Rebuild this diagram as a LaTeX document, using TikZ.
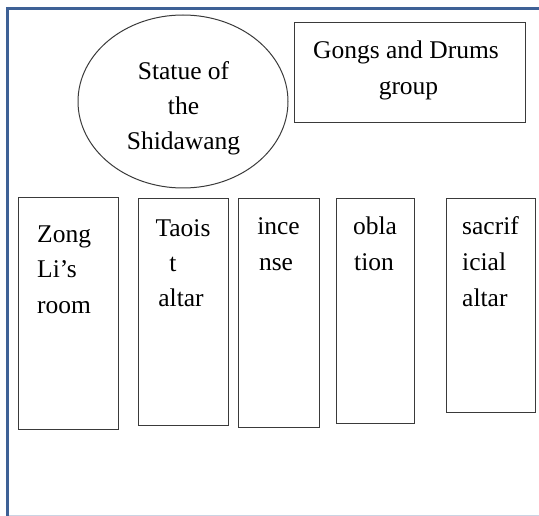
\documentclass[tikz,border=0pt]{standalone}
\usepackage{fontspec}
\setmainfont{Liberation Serif}
\usetikzlibrary{shapes.geometric}
\definecolor{frameblue}{HTML}{3E6196}
\definecolor{framelight}{HTML}{CBD3E3}
\definecolor{boxgray}{HTML}{3A3A3A}
\tikzset{
  roombox/.style={draw=boxgray, line width=0.9pt, rectangle, inner sep=0pt},
  lbl/.style={inner sep=0pt, font=\fontsize{25.5}{35.5}\selectfont, text=black},
}
\begin{document}
\begin{tikzpicture}[x=1pt,y=-1pt]
\useasboundingbox (0,0) rectangle (539,516);
% frame
\draw[framelight, line width=1pt] (8,515) -- (539,515);
\draw[frameblue, line width=3pt] (6,8.5) -- (539,8.5);
\draw[frameblue, line width=3pt] (7.5,7) -- (7.5,516);
% ellipse
\node[draw=boxgray, line width=1pt, ellipse, minimum width=210pt, minimum height=173pt, inner sep=0pt] (statue) at (183,101.5) {};
\node[lbl, anchor=base] (st1) at (183.5,80) {Statue of};
\node[lbl, anchor=base] (st2) at (183.5,115) {the};
\node[lbl, anchor=base] (st3) at (183.5,150) {Shidawang};
% gongs
\node[roombox, minimum width=231pt, minimum height=100pt] (gongs) at (409.5,72) {};
\node[lbl, anchor=base] (g1) at (406,59) {Gongs and Drums};
\node[lbl, anchor=base] (g2) at (408.5,95) {group};
% Zong Li's room
\node[roombox, minimum width=100pt, minimum height=232pt] (zong) at (68,313) {};
\node[lbl, anchor=base west] (z1) at (37,243) {Zong};
\node[lbl, anchor=base west] (z2) at (37,278) {Li’s};
\node[lbl, anchor=base west] (z3) at (37,314) {room};
% Taoist altar
\node[roombox, minimum width=90pt, minimum height=227pt] (taoist) at (183,311.5) {};
\node[lbl, anchor=base] (t1) at (183,237) {Taois};
\node[lbl, anchor=base] (t2) at (173,272) {t};
\node[lbl, anchor=base] (t3) at (181,307) {altar};
% incense
\node[roombox, minimum width=81pt, minimum height=229pt] (incense) at (278.5,312.5) {};
\node[lbl, anchor=base] (i1) at (278.5,235) {ince};
\node[lbl, anchor=base] (i2) at (276,271) {nse};
% oblation
\node[roombox, minimum width=78pt, minimum height=225pt] (oblation) at (375,310.5) {};
\node[lbl, anchor=base] (o1) at (375,235) {obla};
\node[lbl, anchor=base] (o2) at (374,271) {tion};
% sacrificial altar
\node[roombox, minimum width=89pt, minimum height=214pt] (sacrif) at (490.5,305) {};
\node[lbl, anchor=base west] (s1) at (462,235) {sacrif};
\node[lbl, anchor=base west] (s2) at (462,271) {icial};
\node[lbl, anchor=base west] (s3) at (462,307) {altar};
\end{tikzpicture}
\end{document}
